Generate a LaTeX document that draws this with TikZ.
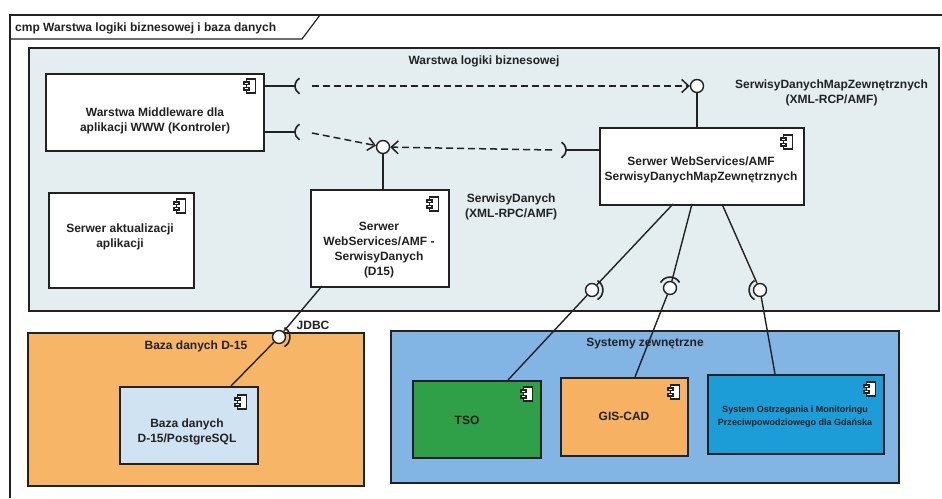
\documentclass[tikz,border=0pt]{standalone}
\usepackage{fontspec}
\setmainfont{Liberation Sans}
\usetikzlibrary{arrows.meta}
\definecolor{bizfill}{HTML}{E4EEF1}
\definecolor{dbfill}{HTML}{F7B667}
\definecolor{innerdb}{HTML}{CFE3F3}
\definecolor{extfill}{HTML}{82B4E4}
\definecolor{tsofill}{HTML}{2F9F48}
\definecolor{gisfill}{HTML}{F6B262}
\definecolor{sysfill}{HTML}{1C9DD8}
\definecolor{ink}{HTML}{222222}
\tikzset{
  lbl/.style={font=\bfseries\fontsize{12}{15}\selectfont, text=ink, align=center, inner sep=0pt},
  comp/.style={draw=ink, line width=1.8pt, fill=white, anchor=north west, lbl},
  container/.style={draw=ink, line width=1.5pt, anchor=north west, inner sep=0pt},
  ball/.style={circle, draw=ink, fill=white, line width=1.4pt, minimum size=13pt, inner sep=0pt},
  wire/.style={draw=ink, line width=1.4pt},
  sock/.style={draw=ink, line width=1.6pt},
  dep/.style={draw=ink, line width=1.5pt, dash pattern=on 7pt off 4pt, -{Straight Barb[length=7pt,width=13pt,line width=1.5pt]}},
  cicon/.pic={
    \draw[ink, line width=1.3pt, fill=white] (-4.5,-7) rectangle (4.5,7);
    \draw[ink, line width=1.3pt, fill=white] (-7,-4) rectangle (-2,-1.2);
    \draw[ink, line width=1.3pt, fill=white] (-7,1.2) rectangle (-2,4);
  }
}
\begin{document}
\begin{tikzpicture}[x=1pt,y=-1pt]
\useasboundingbox (0,0) rectangle (942,498);
\fill[white] (0,0) rectangle (942,498);
% outer frame
\draw[ink, line width=1.2pt] (10,498) -- (10,15) -- (942,15);
\draw[ink, line width=1.2pt] (10,39) -- (302,39) -- (320,15);
\node[lbl, anchor=west] (frametitle) at (15,28) {cmp Warstwa logiki biznesowej i baza danych};

% business layer container
\node[container, fill=bizfill, minimum width=910pt, minimum height=263pt] (biz) at (28,47) {};
\node[lbl] (biztitle) at (484,61) {Warstwa logiki biznesowej};

% components in business layer
\node[comp, minimum width=218pt, minimum height=77pt] (mw) at (45,73) {};
\node[lbl] (mwt) at (155,121) {Warstwa Middleware dla\\aplikacji WWW (Kontroler)};
\pic at (251,86) {cicon};

\node[comp, minimum width=145pt, minimum height=95pt] (upd) at (48,192) {};
\node[lbl] (updt) at (120,237) {Serwer aktualizacji\\aplikacji};
\pic at (181,206) {cicon};

\node[comp, minimum width=138pt, minimum height=97pt] (d15) at (310,189) {};
\node[lbl] (d15t) at (379,250) {Serwer\\WebServices/AMF -\\SerwisyDanych\\(D15)};
\pic at (434,204) {cicon};

\node[comp, minimum width=204pt, minimum height=77pt] (map) at (599,127) {};
\node[lbl] (mapt) at (701,170) {Serwer WebServices/AMF\\SerwisyDanychMapZewnętrznych};
\pic at (788,142) {cicon};

% provided interfaces (balls)
\node[ball] (b1) at (697,86) {};
\node[ball] (b2) at (383,147) {};
\draw[wire] (b1) -- (map.north -| b1);
\draw[wire] (b2) -- (d15.north -| b2);
\node[lbl, anchor=north west] (b1t) at (735,80) {SerwisyDanychMapZewnętrznych\\(XML-RCP/AMF)};
\node[lbl, anchor=north west] (b2t) at (465,194) {SerwisyDanych\\(XML-RPC/AMF)};

% required interfaces (sockets)
\coordinate (s1) at (295,86);
\coordinate (s2) at (295,132);
\coordinate (s3) at (566,150);
\draw[wire] (mw.east |- s1) -- (s1);
\draw[wire] (mw.east |- s2) -- (s2);
\draw[wire] (map.west |- s3) -- (s3);
\draw[sock] (s1) ++(4.5,-7.79) arc[start angle=240,end angle=120,radius=9];
\draw[sock] (s2) ++(4.5,-7.79) arc[start angle=240,end angle=120,radius=9];
\draw[sock] (s3) ++(-4.5,-7.79) arc[start angle=-60,end angle=60,radius=9];
\coordinate (s1d) at (312,86);
\coordinate (s2d) at (312,133);
\coordinate (s3d) at (552,150);
\draw[dep] (s1d) -- (b1);
\draw[dep] (s2d) -- (b2);
\draw[dep] (s3d) -- (b2);

% database container
\node[container, fill=dbfill, minimum width=336pt, minimum height=153pt] (dbc) at (27,332) {};
\node[lbl] (dbct) at (196,346) {Baza danych D-15};
\node[comp, fill=innerdb, minimum width=138pt, minimum height=77pt] (db) at (119,386) {};
\node[lbl] (dbt) at (187,432) {Baza danych\\D-15/PostgreSQL};
\pic at (242,402) {cicon};

% JDBC assembly
\node[ball] (jb) at (279,337) {};
\coordinate (d15b) at (322,286);
\coordinate (dbtop) at (231,386);
\draw[wire] (d15b) -- (jb);
\draw[wire] (jb) -- (dbtop);
\draw[sock] (jb) ++(5.5,-9.5) arc[start angle=-60,end angle=60,radius=11];
\node[lbl] (jdbct) at (313,325) {JDBC};

% external systems container
\node[container, fill=extfill, minimum width=508pt, minimum height=152pt] (ext) at (390,330) {};
\node[lbl] (extt) at (645,344) {Systemy zewnętrzne};
\node[comp, fill=tsofill, minimum width=128pt, minimum height=77pt] (tso) at (412,380) {};
\node[lbl] (tsot) at (467,420) {TSO};
\pic at (528,394) {cicon};
\node[comp, fill=gisfill, minimum width=127pt, minimum height=78pt] (gis) at (560,377) {};
\node[lbl] (gist) at (624,416) {GIS-CAD};
\pic at (675,392) {cicon};
\node[comp, fill=sysfill, minimum width=176pt, minimum height=79pt] (sys) at (707,374) {};
\node[lbl, font=\bfseries\fontsize{9}{13}\selectfont] (syst) at (795,417) {System Ostrzegania i Monitoringu\\Przeciwpowodziowego dla Gdańska};
\pic at (871,389) {cicon};

% assemblies between map server and external systems
\node[ball] (c1) at (592,290) {};
\node[ball] (c2) at (670,288) {};
\node[ball] (c3) at (760,290) {};
\coordinate (m1) at (673,204);
\coordinate (m2) at (692,204);
\coordinate (m3) at (722,204);
\coordinate (t1) at (508,380);
\coordinate (t2) at (635,377);
\coordinate (t3) at (775,374);
\draw[wire] (m1) -- (c1) -- (t1);
\draw[wire] (m2) -- (c2) -- (t2);
\draw[wire] (m3) -- (c3) -- (t3);
\draw[sock] (c1) ++(5.5,-9.5) arc[start angle=-60,end angle=60,radius=11];
\draw[sock] (c2) ++(-9.5,-5.5) arc[start angle=210,end angle=330,radius=11];
\draw[sock] (c3) ++(-5.5,-9.5) arc[start angle=240,end angle=120,radius=11];
\end{tikzpicture}
\end{document}
